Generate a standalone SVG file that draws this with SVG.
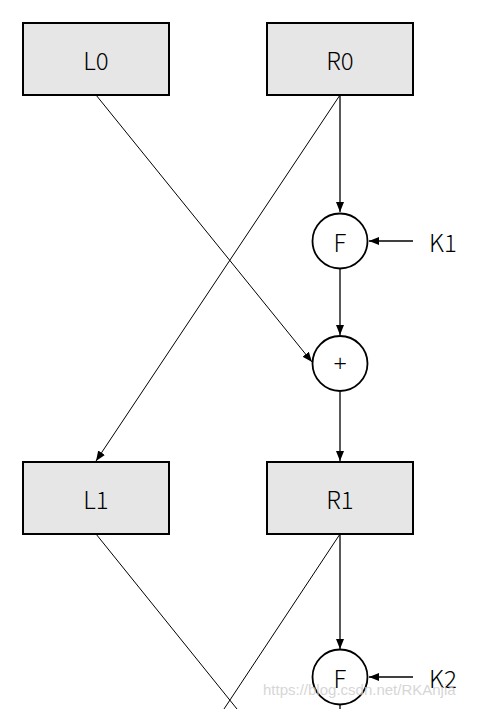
<svg xmlns="http://www.w3.org/2000/svg" width="477" height="709" viewBox="0 0 477 709">
<style>
.box{fill:#e6e6e6;stroke:#000;stroke-width:2}
.circ{fill:#fff;stroke:#000;stroke-width:1.8}
.lbl{font-family:"Noto Sans CJK SC","Noto Sans",sans-serif;font-size:24px;font-weight:300;fill:#000;text-anchor:middle;dominant-baseline:central}
.plus{font-family:"Noto Sans",sans-serif;font-size:24px;font-weight:300;fill:#000;text-anchor:middle;dominant-baseline:central}
.ln{stroke:#000;stroke-width:1;fill:none}
.lv{stroke:#000;stroke-width:1.3;fill:none}
.wm{font-family:"Liberation Sans",Arial,sans-serif;font-size:15px;fill:#d0d0d0;opacity:0.85}
</style>
<defs>
<marker id="ah" viewBox="0 0 10 10" refX="10" refY="5" markerWidth="10" markerHeight="10" markerUnits="userSpaceOnUse" orient="auto">
<path d="M0,1 L10,5 L0,9 Z" fill="#000"/>
</marker>
</defs>
<g id="connectors">
<line class="ln" x1="96" y1="95" x2="312" y2="362" marker-end="url(#ah)"/>
<line class="ln" x1="340" y1="95" x2="96" y2="461" marker-end="url(#ah)"/>
<line class="lv" x1="340" y1="95" x2="340" y2="212" marker-end="url(#ah)"/>
<line class="lv" x1="413" y1="241" x2="369" y2="241" marker-end="url(#ah)"/>
<line class="lv" x1="340" y1="269" x2="340" y2="335" marker-end="url(#ah)"/>
<line class="lv" x1="340" y1="392" x2="340" y2="461" marker-end="url(#ah)"/>
<line class="ln" x1="96" y1="534" x2="237" y2="709"/>
<line class="ln" x1="340" y1="534" x2="224" y2="709"/>
<line class="lv" x1="340" y1="534" x2="340" y2="649" marker-end="url(#ah)"/>
<line class="lv" x1="413" y1="677" x2="369" y2="677" marker-end="url(#ah)"/>
<line class="lv" x1="340" y1="705" x2="340" y2="709"/>
</g>
<g id="L0"><rect class="box" x="23" y="23" width="146" height="72"/><text class="lbl" x="96" y="59">L0</text></g>
<g id="R0"><rect class="box" x="267" y="23" width="146" height="72"/><text class="lbl" x="340" y="59">R0</text></g>
<g id="F1"><circle class="circ" cx="340" cy="241" r="27.5"/><text class="lbl" x="340" y="241">F</text></g>
<g id="K1"><text class="lbl" x="443" y="241">K1</text></g>
<g id="XOR1"><circle class="circ" cx="340" cy="363.5" r="27.5"/><text class="plus" x="340" y="362">+</text></g>
<g id="L1"><rect class="box" x="23" y="462" width="146" height="72"/><text class="lbl" x="96" y="498">L1</text></g>
<g id="R1"><rect class="box" x="267" y="462" width="146" height="72"/><text class="lbl" x="340" y="498">R1</text></g>
<g id="F2"><circle class="circ" cx="340" cy="677" r="27.5"/><text class="lbl" x="340" y="677">F</text></g>
<g id="K2"><text class="lbl" x="443" y="677">K2</text></g>
<text class="wm" x="263" y="695">https://blog.csdn.net/RKAnjia</text>
</svg>
